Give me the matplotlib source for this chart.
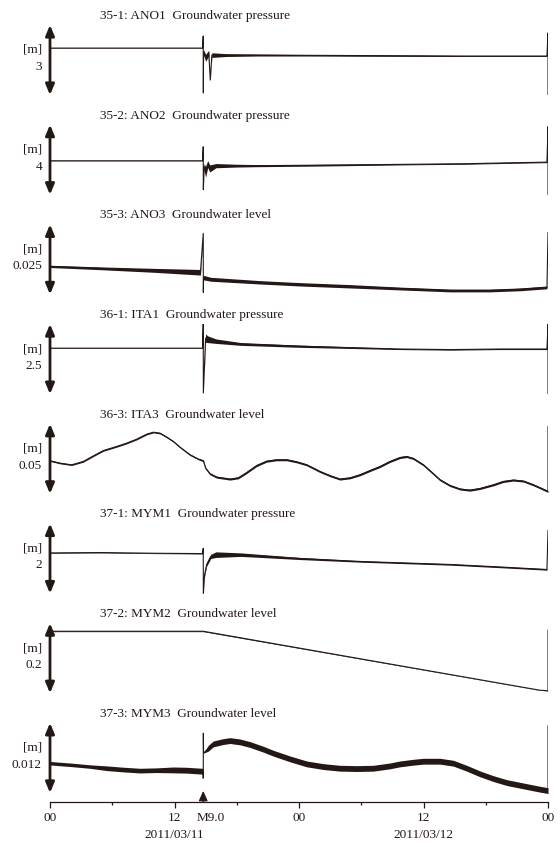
import numpy as np
import matplotlib
matplotlib.use('Agg')
import matplotlib.pyplot as plt
import matplotlib.transforms as mtransforms

plt.rcParams['font.family'] = ['Liberation Serif', 'DejaVu Serif']

INK = '#231815'
T_EQ = 14.77  # 14:46 JST, hours from 2011/03/11 00:00

# hours from 2011/03/11 00:00, value [m], noise half-width [m]
t_ano1 = [0, 6, 12, 14.7, 14.77, 14.78, 14.8, 15.0, 15.3, 15.45, 15.6, 17, 20, 25, 30, 40, 47.9, 48, 48]
v_ano1 = [2.01, 2.01, 2.01, 2.01, 2.53, 0.09, 1.84, 1.59, 1.80, 0.64, 1.71, 1.71, 1.71, 1.70, 1.69, 1.67, 1.67, 2.66, 0.0]
n_ano1 = [0.01, 0.01, 0.01, 0.01, 0, 0, 0.1, 0.15, 0.12, 0, 0.1, 0.06, 0.04, 0.03, 0.03, 0.02, 0.02, 0, 0]

t_ano2 = [0, 14.7, 14.77, 14.78, 14.85, 15.0, 15.2, 15.4, 16, 18, 20, 25, 30, 35, 40, 45, 47.9, 48, 48]
v_ano2 = [1.94, 1.94, 2.74, 0.29, 1.6, 1.3, 1.75, 1.5, 1.66, 1.66, 1.66, 1.68, 1.71, 1.74, 1.77, 1.83, 1.86, 3.89, 0]
n_ano2 = [0.01, 0.01, 0, 0, 0.2, 0.3, 0.2, 0.2, 0.12, 0.08, 0.06, 0.05, 0.04, 0.03, 0.03, 0.03, 0.03, 0, 0]

t_ano3 = [0, 5, 10, 14.5, 14.77, 14.78, 14.8, 15.5, 20.3, 24.1, 28.9, 33.75, 38.6, 42.4, 45.3, 47.9, 48]
v_ano3 = [0.0100, 0.0093, 0.0086, 0.0079, 0.0218, 0.0007, 0.0060, 0.0054, 0.0043, 0.0036, 0.0029, 0.0021, 0.0014, 0.0014, 0.0018, 0.0025, 0.0221]
n_ano3 = [0.0004, 0.0005, 0.0007, 0.0010, 0, 0, 0.0008, 0.0007, 0.0006, 0.0006, 0.0006, 0.0005, 0.0005, 0.0005, 0.0005, 0.0005, 0]

t_ita1 = [0, 14.7, 14.77, 14.78, 15.0, 15.2, 16, 18.4, 24.1, 28.9, 33.75, 38.6, 43.4, 47.9, 48, 48]
v_ita1 = [1.64, 1.64, 2.54, 0.04, 2.0, 1.96, 1.89, 1.79, 1.71, 1.66, 1.61, 1.59, 1.61, 1.61, 2.5, 0]
n_ita1 = [0.01, 0.01, 0, 0, 0.15, 0.12, 0.08, 0.05, 0.04, 0.03, 0.02, 0.02, 0.02, 0.02, 0, 0]

t_ita3 = [0.0, 0.96, 2.09, 3.21, 4.18, 5.14, 6.43, 7.39, 8.35, 9.32, 9.96, 10.6, 11.25, 11.89, 12.53,
          13.49, 14.3, 14.78, 15.0, 15.42, 16.06, 17.35, 18.15, 18.96, 19.92, 20.88, 21.85, 22.81,
          23.78, 24.74, 26.02, 26.99, 27.95, 28.92, 29.88, 30.84, 31.81, 32.77, 33.73, 34.38, 35.02,
          35.98, 36.95, 37.59, 38.55, 39.52, 40.48, 41.45, 42.73, 43.69, 44.66, 45.62, 46.59, 48.0, 48.0]
v_ita3 = [0.0236, 0.0219, 0.0207, 0.0231, 0.0271, 0.0309, 0.0338, 0.0362, 0.0390, 0.0426, 0.0440,
          0.0433, 0.0405, 0.0374, 0.0333, 0.0279, 0.0248, 0.0236, 0.0183, 0.0143, 0.0119, 0.0105,
          0.0114, 0.0152, 0.0202, 0.0233, 0.0243, 0.0243, 0.0228, 0.0207, 0.0159, 0.0129, 0.0105,
          0.0114, 0.0136, 0.0166, 0.0195, 0.0231, 0.0259, 0.0266, 0.0252, 0.0207, 0.0143, 0.0100,
          0.0059, 0.0034, 0.0026, 0.0038, 0.0064, 0.0088, 0.0098, 0.0091, 0.0064, 0.0017, 0.0481]
n_ita3 = [0.0005] * 17 + [0.0007] * 37 + [0]

t_mym1 = [0, 5, 10, 14.7, 14.77, 14.78, 14.9, 15.1, 15.5, 16, 18.4, 24.1, 30, 38.6, 43.4, 47.9, 48]
v_mym1 = [1.16, 1.17, 1.15, 1.14, 1.29, 0.0, 0.54, 0.83, 1.06, 1.11, 1.11, 1.0, 0.914, 0.829, 0.757, 0.686, 1.8]
n_mym1 = [0.01, 0.01, 0.01, 0.01, 0, 0, 0.05, 0.05, 0.06, 0.08, 0.05, 0.03, 0.02, 0.02, 0.02, 0.02, 0]

t_mym2 = [0, 14.77, 47.2, 48, 48]
v_mym2 = [0.177, 0.177, 0.0086, 0.007, 0.18]
n_mym2 = [0.0012, 0.0012, 0.0004, 0.0004, 0]

t_mym3 = [0.0, 1.28, 2.09, 3.86, 5.46, 7.07, 8.67, 10.28, 11.89, 13.17, 14.75, 14.77, 14.78, 14.8,
          15.26, 15.74, 16.71, 17.35, 18.31, 19.28, 20.56, 21.53, 23.13, 24.74, 26.35, 27.95, 29.56,
          31.16, 32.77, 33.73, 35.02, 35.98, 37.59, 38.88, 40.16, 41.45, 42.73, 44.02, 45.62, 47.23,
          48.0, 48.0]
v_mym3 = [0.00509, 0.00491, 0.00480, 0.00451, 0.00423, 0.00400, 0.00382, 0.00389, 0.00394, 0.00389,
          0.00371, 0.00251, 0.01023, 0.00680, 0.00766, 0.00840, 0.00880, 0.00897, 0.00874, 0.00829,
          0.00749, 0.00680, 0.00583, 0.00497, 0.00451, 0.00423, 0.00417, 0.00423, 0.00463, 0.00497,
          0.00526, 0.00543, 0.00543, 0.00509, 0.00423, 0.00326, 0.00245, 0.00177, 0.00120, 0.00063,
          0.00039, 0.01149]
n_mym3 = [0.0003, 0.0003, 0.0003, 0.0003, 0.0004, 0.0004, 0.0004, 0.0004, 0.0005, 0.0005, 0.0005,
          0, 0, 0] + [0.0005] * 27 + [0]

titles = ['35-1: ANO1  Groundwater pressure', '35-2: ANO2  Groundwater pressure',
          '35-3: ANO3  Groundwater level', '36-1: ITA1  Groundwater pressure',
          '36-3: ITA3  Groundwater level', '37-1: MYM1  Groundwater pressure',
          '37-2: MYM2  Groundwater level', '37-3: MYM3  Groundwater level']
scales = [3, 4, 0.025, 2.5, 0.05, 2, 0.2, 0.012]
scale_labels = ['3', '4', '0.025', '2.5', '0.05', '2', '0.2', '0.012']
series = [(t_ano1, v_ano1, n_ano1), (t_ano2, v_ano2, n_ano2), (t_ano3, v_ano3, n_ano3),
          (t_ita1, v_ita1, n_ita1), (t_ita3, v_ita3, n_ita3), (t_mym1, v_mym1, n_mym1),
          (t_mym2, v_mym2, n_mym2), (t_mym3, v_mym3, n_mym3)]

major_ticks = [0, 12, 24, 36, 48]
major_labels = ['00', '12', '00', '12', '00']
minor_ticks = [6, 18, 30, 42]
dates = [(12, '2011/03/11'), (36, '2011/03/12')]

W, H = 560, 847
fig = plt.figure(figsize=(W / 100, H / 100), dpi=100)

left, right = 50, 548
pitch, ax_h, top0 = 99.7, 70, 25
axes = []
for k in range(8):
    top = top0 + pitch * k
    ax = fig.add_axes([left / W, 1 - (top + ax_h) / H, (right - left) / W, ax_h / H])
    t, v, n = (np.array(a, dtype=float) for a in series[k])
    ax.fill_between(t, v - n, v + n, color=INK, lw=0)
    ax.plot(t, v, color=INK, lw=0.8)
    ax.set_xlim(0, 48)
    ax.set_ylim(0, scales[k])
    for s in ax.spines.values():
        s.set_visible(False)
    ax.set_xticks([])
    ax.set_yticks([])
    ax.patch.set_alpha(0)

    # double-headed scale bar
    ax.annotate('', xy=(0, 1), xytext=(0, 0), xycoords='axes fraction',
                arrowprops=dict(arrowstyle='<|-|>,head_length=0.62,head_width=0.26',
                                lw=2.0, color=INK, shrinkA=0, shrinkB=0, mutation_scale=10))
    off = mtransforms.offset_copy(ax.transAxes, fig=fig, x=-8, y=0, units='dots')
    ax.text(0, 1 - 25 / ax_h, '[m]', transform=off, ha='right', va='center', fontsize=9.5, color=INK)
    ax.text(0, 1 - 42 / ax_h, scale_labels[k], transform=off, ha='right', va='center', fontsize=9.5, color=INK)
    ax.text((100 - left) / (right - left), 1 + 9 / ax_h, titles[k], transform=ax.transAxes,
            ha='left', va='center', fontsize=9.5, color=INK)
    axes.append(ax)

ax = axes[-1]
ax.spines['bottom'].set_visible(True)
ax.spines['bottom'].set_position(('outward', 6.5))
ax.spines['bottom'].set_linewidth(0.9)
ax.spines['bottom'].set_color(INK)
ax.set_xticks(major_ticks)
ax.set_xticklabels(major_labels)
ax.set_xticks(minor_ticks, minor=True)
ax.tick_params(axis='x', which='major', direction='out', length=4, width=0.9, color=INK,
               labelsize=9.5, labelcolor=INK, pad=3)
ax.tick_params(axis='x', which='minor', direction='out', length=2.5, width=0.9, color=INK)

xt = mtransforms.blended_transform_factory(ax.transData, ax.transAxes)
for x, d in dates:
    ax.text(x, 1 - 42 / ax_h - 1, d, transform=xt, ha='center', va='center', fontsize=9.5, color=INK)
ax.text(T_EQ - 0.6, -25 / ax_h, 'M9.0', transform=xt, ha='left', va='center', fontsize=9.5, color=INK)
ax.annotate('', xy=(T_EQ, 2 / ax_h), xytext=(T_EQ, -9.5 / ax_h), xycoords=xt,
            annotation_clip=False,
            arrowprops=dict(arrowstyle='-|>,head_length=0.6,head_width=0.27', lw=0.9,
                            color=INK, shrinkA=0, shrinkB=0, mutation_scale=10))

fig.savefig('out.png', dpi=100)
